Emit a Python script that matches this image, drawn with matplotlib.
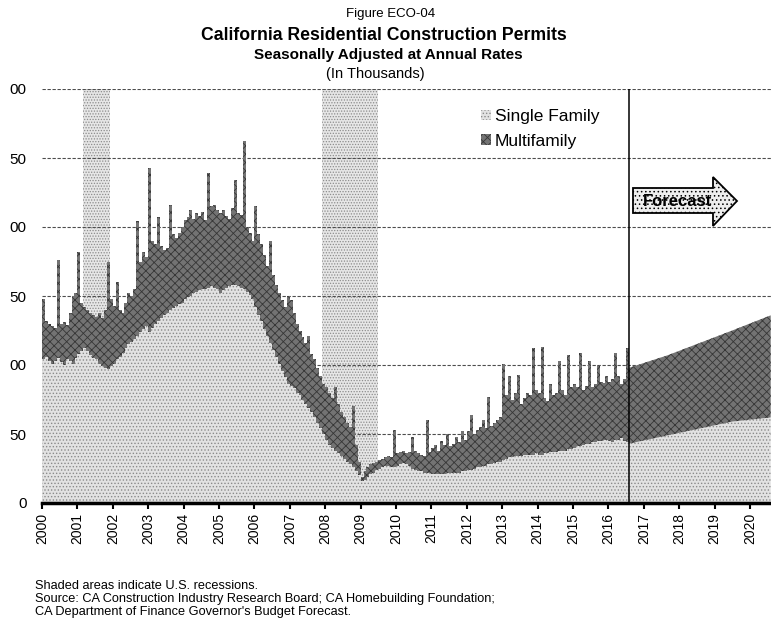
import datetime as dt

import matplotlib.pyplot as plt
import matplotlib.dates as mdates
import numpy as np
import pandas as pd
from matplotlib.patches import Patch, Polygon

plt.rcParams["font.family"] = ["Liberation Sans", "DejaVu Sans"]
plt.rcParams["hatch.linewidth"] = 0.6

# permits, seasonally adjusted annual rate, thousands - monthly Jan 2000 .. Jul 2016
single_family = [
    104, 106, 103, 101, 103, 105, 102, 100, 104, 103, 101, 105,  # 2000
    108, 110, 112, 110, 107, 105, 104, 101, 99, 98, 97, 99,      # 2001
    101, 104, 106, 109, 112, 115, 117, 119, 121, 124, 126, 128,  # 2002
    124, 127, 130, 132, 134, 136, 138, 140, 141, 143, 144, 145,  # 2003
    148, 149, 150, 152, 153, 154, 155, 155, 156, 157, 156, 155,  # 2004
    152, 154, 156, 157, 158, 158, 157, 156, 155, 153, 151, 148,  # 2005
    142, 136, 132, 126, 121, 116, 111, 106, 101, 96, 91, 86,     # 2006
    85, 83, 80, 78, 75, 72, 69, 66, 62, 58, 54, 50,              # 2007
    46, 42, 40, 38, 36, 34, 32, 30, 28, 26, 23, 20,              # 2008
    16, 17, 19, 21, 22, 24, 25, 26, 27, 27, 26, 26,              # 2009
    27, 28, 29, 28, 27, 25, 24, 23, 23, 22, 22, 22,              # 2010
    21, 21, 21, 21, 21, 22, 22, 22, 22, 22, 23, 23,              # 2011
    24, 24, 25, 26, 26, 27, 27, 28, 28, 29, 30, 30,              # 2012
    31, 32, 33, 33, 34, 34, 34, 35, 35, 35, 35, 36,              # 2013
    35, 35, 36, 36, 37, 37, 37, 38, 38, 38, 39, 39,              # 2014
    40, 41, 41, 42, 43, 43, 44, 44, 45, 45, 46, 46,              # 2015
    45, 44, 46, 46, 47, 45, 44,                                  # 2016
]
multifamily = [
    44, 26, 27, 27, 24, 71, 28, 31, 25, 35, 49, 47,              # 2000
    74, 35, 30, 30, 31, 31, 31, 37, 35, 42, 78, 49,              # 2001
    42, 56, 34, 29, 33, 37, 33, 36, 83, 51, 56, 50,              # 2002
    119, 63, 58, 75, 52, 47, 47, 76, 54, 49, 52, 55,             # 2003
    57, 58, 62, 54, 57, 54, 56, 50, 83, 58, 60, 57,              # 2004
    58, 58, 52, 49, 56, 76, 53, 53, 107, 47, 45, 42,             # 2005
    73, 59, 56, 54, 51, 74, 54, 52, 51, 51, 51, 64,              # 2006
    62, 55, 50, 47, 45, 44, 52, 42, 42, 40, 38, 36,              # 2007
    38, 38, 36, 46, 36, 32, 30, 28, 27, 44, 19, 10,              # 2008
    3, 6, 7, 7, 7, 6, 6, 6, 6, 7, 7, 27,                         # 2009
    9, 9, 9, 8, 10, 23, 14, 13, 12, 12, 38, 15,                  # 2010
    19, 21, 17, 24, 21, 28, 19, 21, 26, 22, 29, 23,              # 2011
    28, 40, 25, 27, 29, 33, 27, 49, 28, 29, 30, 32,              # 2012
    70, 46, 59, 42, 46, 59, 38, 41, 45, 43, 77, 46,              # 2013
    45, 78, 40, 38, 49, 41, 43, 65, 44, 40, 68, 45,              # 2014
    46, 43, 68, 40, 42, 60, 40, 42, 55, 43, 41, 46,              # 2015
    43, 46, 63, 46, 39, 45, 68,                                  # 2016
]

# budget forecast
forecast_dates = ["2016-08-01", "2017-09-01", "2018-08-01", "2019-07-01", "2020-08-01"]
forecast_single = [43, 49, 54, 59, 62]
forecast_multi = [55, 58, 62, 66, 74]

recessions = [("2001-03-01", "2001-11-30"), ("2007-12-01", "2009-06-30")]
years = list(range(2000, 2021))
ytick_values = [0, 50, 100, 150, 200, 250, 300]
ytick_labels = ["0", "50", "00", "50", "00", "50", "00"]

W, H = 771, 627


def px(x, y):
    # pixel position -> figure fraction
    return (x / W, 1 - y / H)


fig = plt.figure(figsize=(W / 100, H / 100), dpi=100)
ax = fig.add_axes([42 / W, 1 - 503 / H, 1 - 42 / W, (503 - 89) / H])

sf_style = dict(facecolor="#e2e2e2", edgecolor="#8a8a8a", hatch=".....", linewidth=0)
mf_style = dict(facecolor="#737373", edgecolor="#363636", hatch="xxxx", linewidth=0)

months = pd.date_range("2000-01-01", periods=len(single_family), freq="MS")
ax.bar(months, single_family, width=31, align="edge", zorder=2, **sf_style)
ax.bar(months, multifamily, bottom=single_family, width=31, align="edge",
       zorder=2, **mf_style)

fc_x = pd.to_datetime(forecast_dates)
fc_total = np.add(forecast_single, forecast_multi)
ax.fill_between(fc_x, 0, forecast_single, zorder=2, **sf_style)
ax.fill_between(fc_x, forecast_single, fc_total, zorder=2, **mf_style)

for start, end in recessions:
    ax.axvspan(pd.Timestamp(start), pd.Timestamp(end), facecolor="#e6e6e6",
               edgecolor="#8c8c8c", hatch="......", linewidth=0, zorder=0)

ax.axvline(pd.Timestamp(forecast_dates[0]), color="black", linewidth=1.1, zorder=3)

ax.set_ylim(0, 300)
ax.set_yticks(ytick_values, ytick_labels)
ax.set_axisbelow(True)
ax.yaxis.grid(True, color="#4d4d4d", linewidth=0.8, linestyle=(0, (3, 1.5)))

ax.set_xlim(dt.datetime(2000, 1, 1), dt.datetime(2020, 8, 4))
ax.set_xticks([dt.datetime(y, 1, 1) for y in years])
ax.xaxis.set_major_formatter(mdates.DateFormatter("%Y"))
ax.tick_params(axis="x", direction="out", length=4, width=1.5, labelsize=10,
               labelrotation=90, pad=3)
ax.tick_params(axis="y", length=0, labelsize=11, pad=11)
for side in ["top", "right", "left"]:
    ax.spines[side].set_visible(False)
ax.spines["bottom"].set_linewidth(2.5)

handles = [Patch(label="Single Family", **sf_style),
           Patch(label="Multifamily", **mf_style)]
ax.legend(handles=handles, loc="upper left", bbox_to_anchor=px(481, 109),
          bbox_transform=fig.transFigure, frameon=False, fontsize=12.5,
          handlelength=0.55, handleheight=0.55, handletextpad=0.25,
          labelspacing=0.55, borderaxespad=0, borderpad=0)

# forecast arrow
arrow = Polygon([px(633, 188), px(713, 188), px(713, 177), px(737, 201),
                 px(713, 226), px(713, 213), px(633, 213)], closed=True,
                transform=fig.transFigure, facecolor="#eeeeee", edgecolor="black",
                hatch="....", linewidth=1.3, zorder=5)
fig.add_artist(arrow)
fig.text(*px(678, 201), "Forecast", fontsize=12, fontweight="bold",
         ha="center", va="center", zorder=6)

# titles
fig.text(*px(391, 14), "Figure ECO-04", fontsize=9.5, ha="center", va="center")
fig.text(*px(384, 36), "California Residential Construction Permits",
         fontsize=12.7, fontweight="bold", ha="center", va="center")
fig.text(*px(388, 55), "Seasonally Adjusted at Annual Rates",
         fontsize=11, fontweight="bold", ha="center", va="center")
fig.text(*px(375, 74), "(In Thousands)", fontsize=10.5, ha="center", va="center")

# notes
notes = ["Shaded areas indicate U.S. recessions.",
         "Source: CA Construction Industry Research Board; CA Homebuilding Foundation;",
         "CA Department of Finance Governor's Budget Forecast."]
for i, line in enumerate(notes):
    fig.text(*px(35, 586 + 13 * i), line, fontsize=9.2, va="center")

fig.savefig("out.png", dpi=100)
